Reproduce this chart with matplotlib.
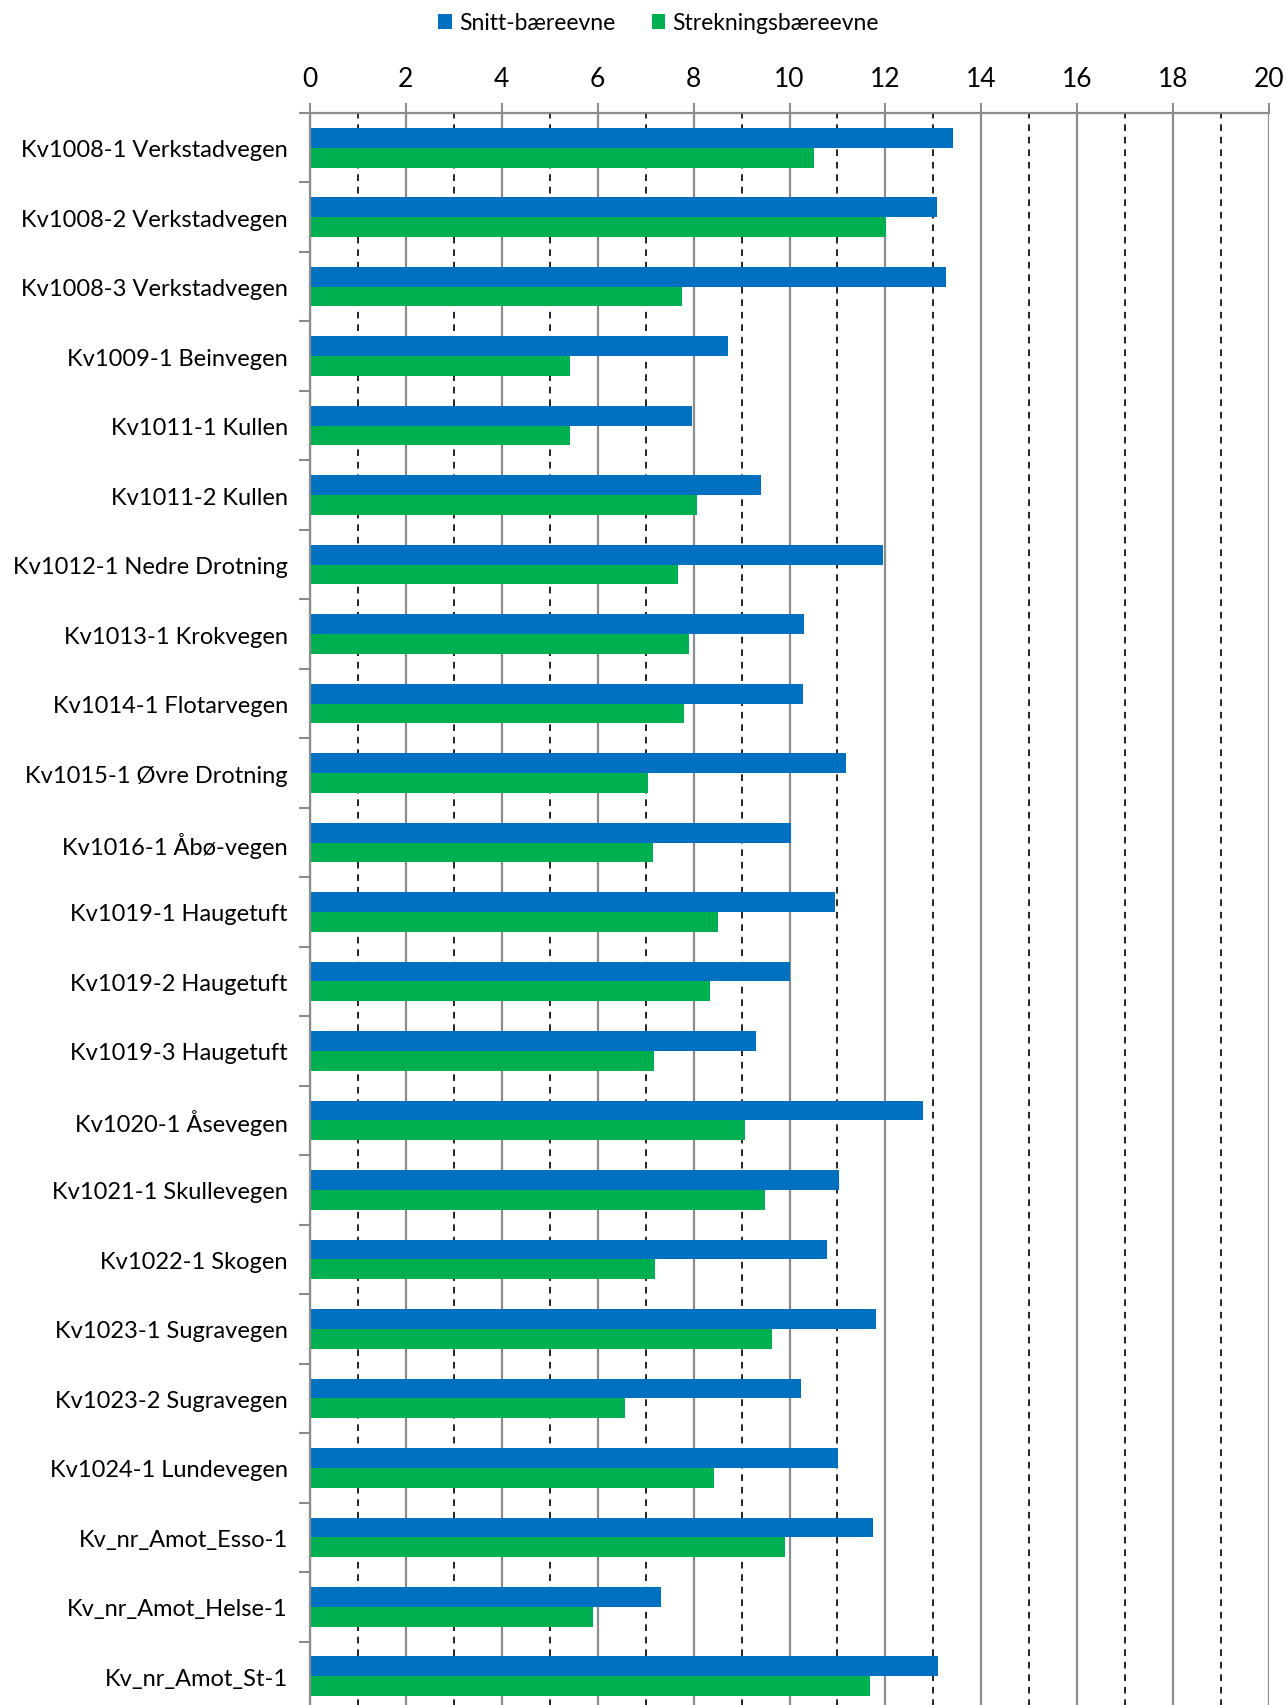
import matplotlib
matplotlib.use("Agg")
import matplotlib.pyplot as plt
from matplotlib.ticker import MultipleLocator, FixedLocator
import numpy as np

# data
strekninger = [
    "Kv1008-1 Verkstadvegen", "Kv1008-2 Verkstadvegen", "Kv1008-3 Verkstadvegen",
    "Kv1009-1 Beinvegen", "Kv1011-1 Kullen", "Kv1011-2 Kullen",
    "Kv1012-1 Nedre Drotning", "Kv1013-1 Krokvegen", "Kv1014-1 Flotarvegen",
    "Kv1015-1 Øvre Drotning", "Kv1016-1 Åbø-vegen", "Kv1019-1 Haugetuft",
    "Kv1019-2 Haugetuft", "Kv1019-3 Haugetuft", "Kv1020-1 Åsevegen",
    "Kv1021-1 Skullevegen", "Kv1022-1 Skogen", "Kv1023-1 Sugravegen",
    "Kv1023-2 Sugravegen", "Kv1024-1 Lundevegen", "Kv_nr_Amot_Esso-1",
    "Kv_nr_Amot_Helse-1", "Kv_nr_Amot_St-1",
]
snitt = [13.42, 13.08, 13.26, 8.72, 7.97, 9.40, 11.96, 10.31, 10.28, 11.17,
         10.03, 10.94, 10.01, 9.31, 12.78, 11.03, 10.78, 11.80, 10.24, 11.01,
         11.74, 7.31, 13.10]
strekning = [10.51, 12.01, 7.76, 5.43, 5.43, 8.08, 7.67, 7.90, 7.81, 7.04,
             7.15, 8.51, 8.35, 7.17, 9.08, 9.49, 7.20, 9.63, 6.56, 8.42,
             9.90, 5.90, 11.67]

plt.rcParams['font.family'] = ['Lato', 'DejaVu Sans']

fig = plt.figure(figsize=(12.86, 17.06), dpi=100)
ax = fig.add_axes([310 / 1286, 1 - 1712 / 1706, 959 / 1286, (1712 - 114) / 1706])

y = np.arange(len(strekninger))
h = 0.285
ax.barh(y - h / 2, snitt, height=h, color="#0070C0", label="Snitt-bæreevne")
ax.barh(y + h / 2, strekning, height=h, color="#00B050", label="Strekningsbæreevne")

ax.set_xlim(0, 20)
ax.set_ylim(len(strekninger) - 0.5, -0.5)

# x axis on top
ax.xaxis.tick_top()
ax.xaxis.set_major_locator(MultipleLocator(2))
ax.xaxis.set_minor_locator(MultipleLocator(1))
ax.tick_params(axis="x", which="major", length=7, width=1.5, color="#8c8c8c",
               pad=9, labelsize=19)
ax.tick_params(axis="x", which="minor", length=0)
ax.grid(axis="x", which="major", color="#8c8c8c", linewidth=1.6)
ax.grid(axis="x", which="minor", color="black", linewidth=1.2, linestyle=(0, (4, 3.5)))
ax.set_axisbelow(True)

# category labels at centres, ticks at boundaries
ax.set_yticks(y)
ax.set_yticklabels(strekninger)
ax.yaxis.set_minor_locator(FixedLocator(np.arange(-0.5, len(strekninger), 1)))
ax.tick_params(axis="y", which="major", length=0, pad=16, labelsize=17)
ax.tick_params(axis="y", which="minor", length=8, width=1.5, color="#8c8c8c")

for s in ["right", "bottom"]:
    ax.spines[s].set_visible(False)
for s in ["top", "left"]:
    ax.spines[s].set_color("#8c8c8c")
    ax.spines[s].set_linewidth(1.6)

fig.legend(loc="center", bbox_to_anchor=(0.512, 1 - 24 / 1706), ncol=2, frameon=False,
           fontsize=16.5, handlelength=0.6, handleheight=0.6, handletextpad=0.3,
           columnspacing=1.6)

fig.savefig("out.png", dpi=100)
